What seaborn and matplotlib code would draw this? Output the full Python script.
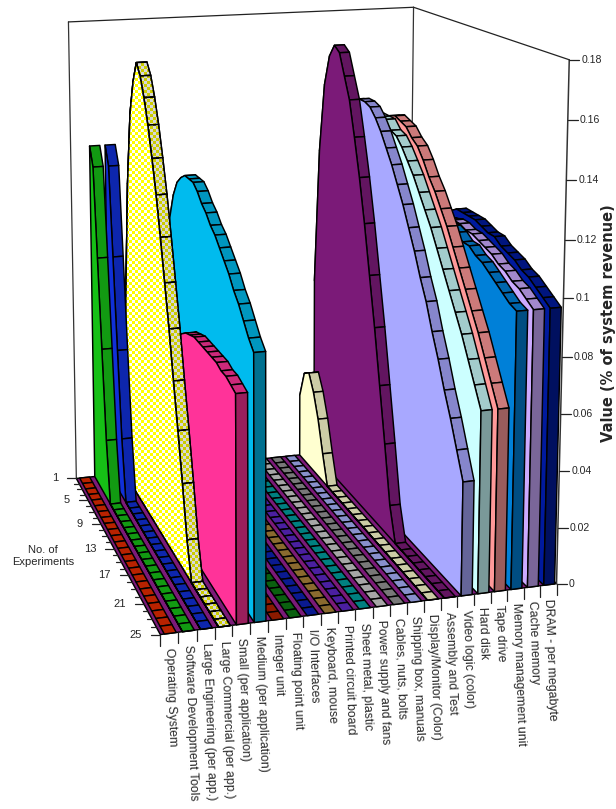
import numpy as np
import pandas as pd
import seaborn as sns
import matplotlib
matplotlib.use("Agg")
import matplotlib.pyplot as plt
from matplotlib.patches import Polygon

categories = ["Operating System", "Software Development Tools", "Large Engineering (per app.)",
              "Large Commercial (per app.)", "Small (per application)", "Medium (per application)",
              "Integer unit", "Floating point unit", "I/O Interfaces", "Keyboard, mouse",
              "Printed circuit board", "Sheet metal, plastic", "Power supply and fans",
              "Cables, nuts, bolts", "Shipping box, manuals", "Display/Monitor (Color)",
              "Assembly and Test", "Video logic (color)", "Hard disk", "Tape drive",
              "Memory management unit", "Cache memory", "DRAM - per megabyte"]
experiments = list(range(1, 26))
experiment_labels = [1, 5, 9, 13, 17, 21, 25]
value_ticks = [0, 0.02, 0.04, 0.06, 0.08, 0.1, 0.12, 0.14, 0.16, 0.18]
value_tick_labels = ["0", "0.02", "0.04", "0.06", "0.08", "0.1", "0.12", "0.14", "0.16", "0.18"]

os_vals = [0] * 25
sw_vals = [.132, .125, .091, .057, .023, 0, 0, 0, 0, 0, 0, 0, 0, 0, 0, 0, 0, 0, 0, 0, 0, 0, 0, 0, 0]
eng_vals = [.132, .125, .091, .056, .023, 0, 0, 0, 0, 0, 0, 0, 0, 0, 0, 0, 0, 0, 0, 0, 0, 0, 0, 0, 0]
com_vals = [.02, .071, .119, .147, .160, .168, .164, .157, .148, .137, .125, .111, .096, .081, .064, .048, .031, .013,
            0, 0, 0, 0, 0, 0, 0]
small_vals = [0, 0, 0, .01, .02, .03, .04, .049, .057, .064, .07, .074, .077, .079, .080, .081, .081, .081,
              .081, .081, .081, .080, .080, .079, .078]
med_vals = [.01, .03, .05, .07, .09, .109, .119, .125, .128, .130, .130, .130, .128, .125, .123, .120, .118, .115,
            .112, .109, .105, .102, .098, .094, .091]
int_vals = [0] * 25
fp_vals = [0] * 25
io_vals = [0] * 25
kb_vals = [0] * 25
pcb_vals = [0] * 25
sheet_vals = [0] * 25
psu_vals = [0] * 25
cable_vals = [0] * 25
ship_vals = [0] * 25
disp_vals = [.025, .036, .038, .032, .023, .011, 0, 0, 0, 0, 0, 0, 0, 0, 0, 0, 0, 0, 0, 0, 0, 0, 0, 0, 0]
asm_vals = [.072, .126, .153, .165, .170, .168, .160, .152, .139, .125, .109, .091, .073, .053, .033, .012,
            0, 0, 0, 0, 0, 0, 0, 0, 0]
video_vals = [.035, .08, .115, .135, .145, .150, .151, .151, .150, .147, .143, .138, .133, .127, .121, .114, .107,
              .099, .092, .083, .075, .066, .058, .049, .040]
hd_vals = [.03, .075, .105, .125, .135, .14, .145, .145, .145, .142, .141, .138, .134, .130, .125, .120, .115, .109,
           .103, .097, .091, .085, .078, .071, .064]
tape_vals = [.03, .075, .105, .125, .135, .14, .144, .145, .144, .143, .140, .138, .134, .129, .125, .120, .115,
             .109, .103, .097, .091, .085, .078, .071, .064]
mmu_vals = [.01, .03, .05, .07, .08, .09, .097, .10, .104, .107, .109, .110, .111, .112, .112, .111, .109, .109,
            .107, .106, .104, .102, .100, .098, .097]
cache_vals = [.01, .03, .05, .07, .08, .09, .097, .102, .105, .107, .109, .110, .111, .111, .110, .110, .109,
              .108, .107, .105, .104, .102, .101, .099, .097]
dram_vals = [.01, .03, .05, .07, .08, .09, .097, .103, .107, .110, .112, .112, .112, .112, .111, .110, .110,
             .108, .107, .106, .104, .103, .101, .099, .097]
all_vals = [os_vals, sw_vals, eng_vals, com_vals, small_vals, med_vals, int_vals, fp_vals, io_vals, kb_vals,
            pcb_vals, sheet_vals, psu_vals, cable_vals, ship_vals, disp_vals, asm_vals, video_vals, hd_vals,
            tape_vals, mmu_vals, cache_vals, dram_vals]

# wall colour of each ribbon, top strip and end face are shades of it
wall_colors = sns.color_palette(["#E62A00", "#16C016", "#1030D8", "#FFFF00", "#FF3399", "#00BBEE",
                                 "#AD2000", "#0D7813", "#0D20B4", "#AD853B", "#5D27C8", "#00A0A0",
                                 "#D0D0D0", "#969696", "#AAB4FF", "#FFFFD0", "#7B1A78", "#A8A8FF",
                                 "#CCFFFF", "#FF9999", "#0080D8", "#CCAAFF", "#001A9E"])
floor_color = "#7B1A78"

# corners of the box: (category, experiment, value) -> pixel, for the projection
box_corners = [((0, 25, 0), (160, 635)), ((0, 1, 0), (77, 478)), ((23, 25, 0), (558, 583)),
               ((23, 1, 0), (407, 444)), ((0, 1, .18), (68, 22)), ((23, 1, .18), (415, 7)),
               ((23, 25, .18), (568, 60))]


def fit_projection(corners):
    rows = []
    for (c, e, v), (px, py) in corners:
        X = [c / 23, e / 25, v / .18, 1]
        u, w = px / 600, py / 600
        rows.append(X + [0, 0, 0, 0] + [-u * a for a in X])
        rows.append([0, 0, 0, 0] + X + [-w * a for a in X])
    return np.linalg.svd(np.array(rows))[2][-1].reshape(3, 4)


P = fit_projection(box_corners)


def project(c, e, v):
    q = P @ np.array([c / 23, e / 25, v / .18, 1.0])
    return q[0] / q[2] * 600, q[1] / q[2] * 600


sns.set_theme(style="white")
plt.rcParams["font.family"] = ["Liberation Sans", "DejaVu Sans"]

table = pd.DataFrame({"category": np.repeat(np.arange(len(categories)), len(experiments)),
                      "experiment": experiments * len(categories),
                      "value": np.concatenate(all_vals)})

fig = plt.figure(figsize=(6.16, 8.09), dpi=100)
ax = fig.add_axes([0, 0, 1, 1])
ax.axis("off")

yy, xx = np.indices((809, 616))
checker = ((xx // 3 + yy // 3) % 2).astype(bool)


def face(points, color, z, check=None):
    ax.add_patch(Polygon(points, closed=True, fc=color, ec="black", lw=1.05, zorder=z, joinstyle="round"))
    if check is not None:
        layer = np.zeros((809, 616, 4))
        layer[checker] = matplotlib.colors.to_rgba(check)
        clip = Polygon(points, closed=True, transform=ax.transData)
        im = ax.imshow(layer, extent=(0, 616, 809, 0), zorder=z + 0.001, interpolation="nearest", aspect="auto")
        im.set_clip_path(clip)
        ax.add_patch(Polygon(points, closed=True, fill=False, ec="black", lw=1.05, zorder=z + 0.002))


def line(p0, p1, z=1, color="black", lw=0.9):
    sns.lineplot(x=[p0[0], p1[0]], y=[p0[1], p1[1]], sort=False, estimator=None, color=color,
                 lw=lw, zorder=z, legend=False, ax=ax)


# box frame
line(project(0, 1, 0), project(0, 1, .18), color="#333333")
line(project(0, 1, .18), project(23, 1, .18), color="#222222")
line(project(23, 1, .18), project(23, 1, 0), color="#333333")
line(project(23, 1, .18), project(23, 25, .18), color="#222222")
line(project(23, 25, .18), project(23, 25, 0), color="#333333", z=200, lw=1.1)

# floor
face([project(0, 1, 0), project(23, 1, 0), project(23, 25, 0), project(0, 25, 0)], floor_color, 2)

f0, f1 = 0.22, 0.88
z = 3
for c, group in reversed(list(table.groupby("category"))):
    vals = group["value"].to_numpy()
    wall = wall_colors[c]
    strip = tuple(a * 0.8 for a in wall)
    end = tuple(a * 0.6 for a in wall)
    is_check = categories[c] == "Large Commercial (per app.)"
    for i in range(len(experiments) - 1):
        e0, e1 = experiments[i], experiments[i + 1]
        cell = [project(c + f0, e0, vals[i]), project(c + f1, e0, vals[i]),
                project(c + f1, e1, vals[i + 1]), project(c + f0, e1, vals[i + 1])]
        face(cell, strip, z, "#D8D8D8" if is_check else None)
        z += 0.01
    wall_pts = [project(c + f0, 1, 0)] + [project(c + f0, e, v) for e, v in zip(experiments, vals)] + \
               [project(c + f0, 25, 0)]
    if vals.max() > 0:
        face(wall_pts, "white" if is_check else wall, z, "#FFFF00" if is_check else None)
        z += 0.01
        face([project(c + f0, 25, 0), project(c + f1, 25, 0), project(c + f1, 25, vals[-1]),
              project(c + f0, 25, vals[-1])], end, z)
    z += 0.1

# value axis
for t, lab in zip(value_ticks, value_tick_labels):
    x, y = project(23, 25, t)
    ax.plot([x, x + 10], [y, y], color="#222222", lw=0.9, zorder=200)
    ax.text(x + 12, y, lab, ha="left", va="center", fontsize=7.6)

# category axis
for c in range(len(categories) + 1):
    x, y = project(c, 25, 0)
    ax.plot([x, x], [y, y + 11], color="#222222", lw=0.9, zorder=200)
for c, name in enumerate(categories):
    x, y = project(c + 0.5, 25, 0)
    ax.text(x, y + 14, name, rotation=-88, rotation_mode="anchor", ha="left", va="center", fontsize=8.8)

# experiment axis
for e in experiments:
    x, y = project(0, e, 0)
    major = e in experiment_labels
    ax.plot([x - (9 if major else 5), x], [y, y], color="#222222", lw=0.9, zorder=200)
    if major:
        ax.text(x - 18, y, str(e), ha="right", va="center", fontsize=8)

ax.text(43, 556, "No. of\nExperiments", ha="center", va="center", fontsize=8, linespacing=1.35)
ax.text(608, 323, "Value (% of system revenue)", rotation=90, ha="center", va="center",
        fontsize=10.5, fontweight="bold", family="DejaVu Sans")

ax.set_xlim(0, 616)
ax.set_ylim(809, 0)
fig.savefig("out.png", dpi=100)
